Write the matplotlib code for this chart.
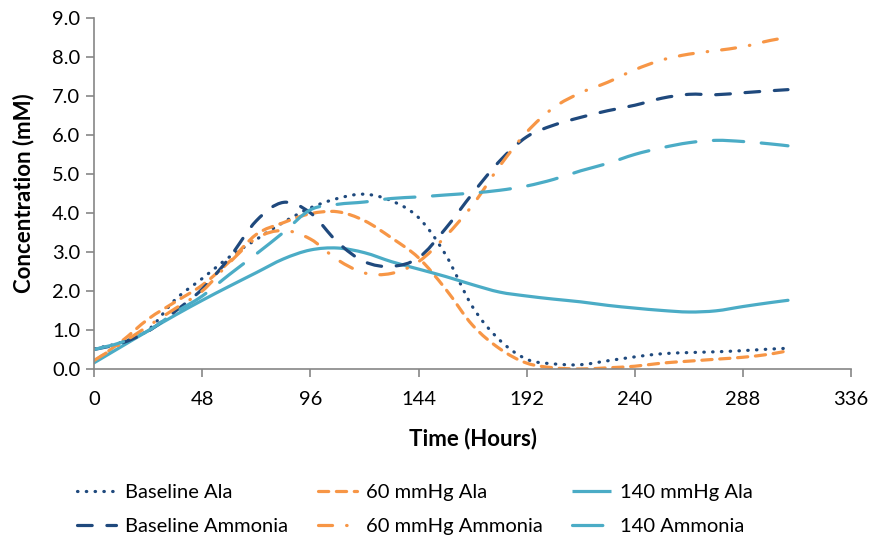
import numpy as np
import matplotlib
matplotlib.use("Agg")
import matplotlib.pyplot as plt
from matplotlib.path import Path
from matplotlib.patches import PathPatch
from matplotlib.lines import Line2D

plt.rcParams['font.family'] = ['Lato', 'DejaVu Sans']

# sampling times (hours)
hours = [0, 12, 24, 36, 48, 60, 72, 84, 96, 108, 120, 132, 144, 156, 168,
         180, 192, 204, 216, 228, 240, 252, 264, 276, 288, 300, 308]

# concentrations (mM)
baseline_ala = [0.52, 0.68, 1.00, 1.78, 2.32, 2.87, 3.32, 3.76, 4.13, 4.37, 4.48, 4.31, 3.88, 2.93,
                1.59, 0.74, 0.25, 0.13, 0.11, 0.21, 0.31, 0.39, 0.42, 0.44, 0.47, 0.51, 0.53]
mmhg60_ala = [0.20, 0.70, 1.28, 1.72, 2.15, 2.75, 3.45, 3.75, 3.98, 4.03, 3.80, 3.36, 2.85, 2.05,
              1.12, 0.52, 0.15, 0.03, 0.00, 0.03, 0.07, 0.15, 0.20, 0.25, 0.30, 0.38, 0.47]
mmhg140_ala = [0.16, 0.57, 0.98, 1.38, 1.76, 2.12, 2.47, 2.82, 3.05, 3.10, 2.98, 2.75, 2.56, 2.37,
               2.16, 1.97, 1.87, 1.79, 1.72, 1.63, 1.56, 1.50, 1.46, 1.49, 1.60, 1.70, 1.76]
baseline_amm = [0.50, 0.66, 0.97, 1.48, 2.05, 2.85, 3.80, 4.27, 4.00, 3.25, 2.75, 2.63, 2.85, 3.60,
                4.50, 5.33, 5.95, 6.25, 6.45, 6.62, 6.76, 6.94, 7.04, 7.03, 7.08, 7.13, 7.16]
mmhg60_amm = [0.22, 0.65, 1.10, 1.55, 2.00, 2.72, 3.35, 3.55, 3.33, 2.80, 2.46, 2.45, 2.75, 3.40,
              4.20, 5.20, 6.07, 6.70, 7.08, 7.35, 7.67, 7.92, 8.07, 8.16, 8.26, 8.42, 8.50]
mmhg140_amm = [0.50, 0.68, 0.98, 1.45, 1.87, 2.42, 2.95, 3.50, 4.08, 4.22, 4.28, 4.37, 4.41, 4.46,
               4.51, 4.58, 4.69, 4.86, 5.08, 5.27, 5.50, 5.67, 5.80, 5.86, 5.83, 5.77, 5.72]

NAVY = '#1F497D'
ORANGE = '#F79646'
LBLUE = '#4BACC6'

series = [
    ('Baseline Ala', baseline_ala, NAVY, (0, (0.15, 2.6))),
    ('60 mmHg Ala', mmhg60_ala, ORANGE, (0, (3.2, 2.4))),
    ('140 mmHg Ala', mmhg140_ala, LBLUE, '-'),
    ('Baseline Ammonia', baseline_amm, NAVY, (0, (4.6, 4.6))),
    ('60 mmHg Ammonia', mmhg60_amm, ORANGE, (0, (4.4, 4.4, 0.15, 4.4))),
    ('140 Ammonia', mmhg140_amm, LBLUE, (0, (9.5, 5.5))),
]


def smooth_path(x, y):
    # Excel-like smoothed line: cubic Bezier through the points (Catmull-Rom)
    p = np.column_stack([x, y]).astype(float)
    n = len(p)
    verts = [p[0]]
    codes = [Path.MOVETO]
    for i in range(n - 1):
        p0 = p[i - 1] if i > 0 else p[i]
        p3 = p[i + 2] if i + 2 < n else p[i + 1]
        c1 = p[i] + (p[i + 1] - p0) / 6.0
        c2 = p[i + 1] - (p3 - p[i]) / 6.0
        verts += [c1, c2, p[i + 1]]
        codes += [Path.CURVE4] * 3
    return Path(verts, codes)


fig = plt.figure(figsize=(8.72, 5.41), dpi=100)
ax = fig.add_axes([0.108, 0.318, 0.868, 0.649])

lw = 2.3
handles = {}
for name, vals, col, ls in series:
    patch = PathPatch(smooth_path(hours, vals), fill=False, edgecolor=col,
                      linewidth=lw, linestyle=ls, capstyle='round', joinstyle='round')
    ax.add_patch(patch)
    handles[name] = Line2D([], [], color=col, linewidth=lw, linestyle=ls,
                           dash_capstyle='round', solid_capstyle='butt')

ax.set_xlim(0, 336)
ax.set_ylim(0, 9)
ax.set_xticks(np.arange(0, 337, 48))
ax.set_yticks(np.arange(0, 9.1, 1))
ax.set_yticklabels(['{:.1f}'.format(v) for v in np.arange(0, 9.1, 1)])

for s in ['top', 'right']:
    ax.spines[s].set_visible(False)
for s in ['left', 'bottom']:
    ax.spines[s].set_color('#868686')
    ax.spines[s].set_linewidth(1.2)
ax.tick_params(axis='both', direction='out', length=6, width=1.2, color='#868686',
               labelsize=14.5, labelcolor='black', pad=4)
ax.tick_params(axis='x', pad=10)

ax.set_xlabel('Time (Hours)', fontsize=16, fontweight='bold', labelpad=14)
ax.set_ylabel('Concentration (mM)', fontsize=16, fontweight='bold', labelpad=13)

# legend laid out row by row like the original (matplotlib fills columns)
order = ['Baseline Ala', 'Baseline Ammonia', '60 mmHg Ala', '60 mmHg Ammonia',
         '140 mmHg Ala', '140 Ammonia']
fig.legend([handles[k] for k in order], order, ncol=3, loc='center',
           bbox_to_anchor=(0.476, 0.058), frameon=False, fontsize=14.5,
           handlelength=1.95, handletextpad=0.45, columnspacing=1.45,
           labelspacing=0.85, borderpad=0)

fig.savefig('out.png', dpi=100)
